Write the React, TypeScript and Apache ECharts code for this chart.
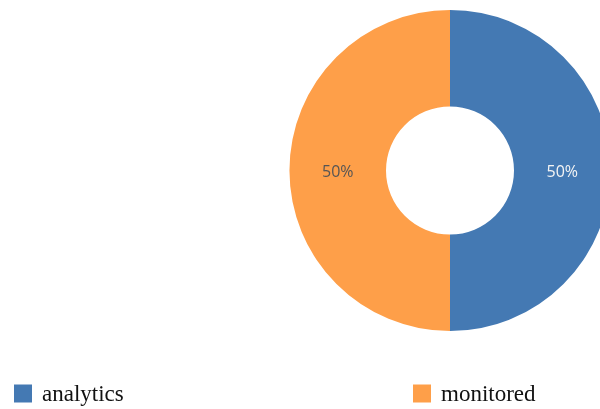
import React, { useEffect, useRef } from "react";
import * as echarts from "echarts";

const categories = ["analytics", "monitored"];
const values = [50, 50];
const colors = ["#4479b3", "#fe9f49"];
const labelColors = ["#f4f4f4", "#555555"];

export default function App() {
  const ref = useRef<HTMLDivElement>(null);
  useEffect(() => {
    if (!ref.current) return;
    const chart = echarts.init(ref.current, null, { renderer: "svg" });
    chart.setOption({
      animation: false,
      legend: categories.map((c, i) => ({
        data: [c],
        left: i === 0 ? 14 : 413,
        top: 382,
        itemWidth: 18,
        itemHeight: 18,
        icon: "rect",
        padding: 0,
        textStyle: {
          fontFamily: "Liberation Serif",
          fontSize: 23,
          color: "#111",
          padding: [0, 0, 3, 5],
        },
      })),
      series: [
        {
          type: "pie",
          center: [450, 170.5],
          radius: [64, 160.5],
          startAngle: 90,
          clockwise: true,
          silent: true,
          label: {
            show: true,
            position: "inside",
            formatter: "{d}%",
            fontFamily: "Open Sans",
            fontSize: 16,
          },
          labelLine: { show: false },
          data: categories.map((c, i) => ({
            name: c,
            value: values[i],
            itemStyle: { color: colors[i] },
            label: {
              color: labelColors[i],
              padding: i === 0 ? [0, 6, 0, 0] : [0, 0, 0, 6],
            },
          })),
        },
      ],
    });
    return () => chart.dispose();
  }, []);
  return (
    <div
      ref={ref}
      style={{ position: "fixed", left: 0, top: 0, width: 600, height: 409 }}
    />
  );
}
